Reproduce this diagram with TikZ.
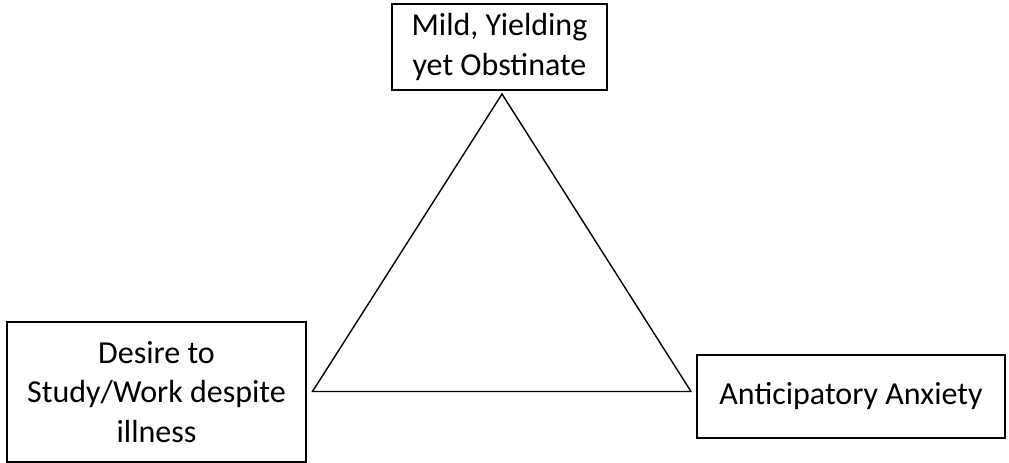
\documentclass[tikz,border=0pt]{standalone}
\usepackage{fontspec}
\setmainfont{Carlito}
\begin{document}
\begin{tikzpicture}[x=1pt,y=-1pt,
  box/.style={draw=black,line width=2pt,inner sep=0pt,align=center,
    font=\fontsize{32}{39.5}\selectfont},
  tri/.style={draw=black,line width=1.4pt,line join=miter}]
\useasboundingbox (0,0) rectangle (1009,463);
\node[box,minimum width=215pt,minimum height=86pt] (top) at (499.5,47) {Mild, Yielding\\yet Obstinate};
\node[box,minimum width=299pt,minimum height=140pt] (left) at (156.5,392) {Desire to\\Study/Work despite\\illness};
\node[box,minimum width=308pt,minimum height=83pt] (right) at (851,396.5) {Anticipatory Anxiety};
\coordinate (apex) at (502,94);
\coordinate (bl) at (312.5,391.5);
\coordinate (br) at (691,391.5);
\draw[tri] (apex) -- (bl) -- (br) -- cycle;
\end{tikzpicture}
\end{document}
